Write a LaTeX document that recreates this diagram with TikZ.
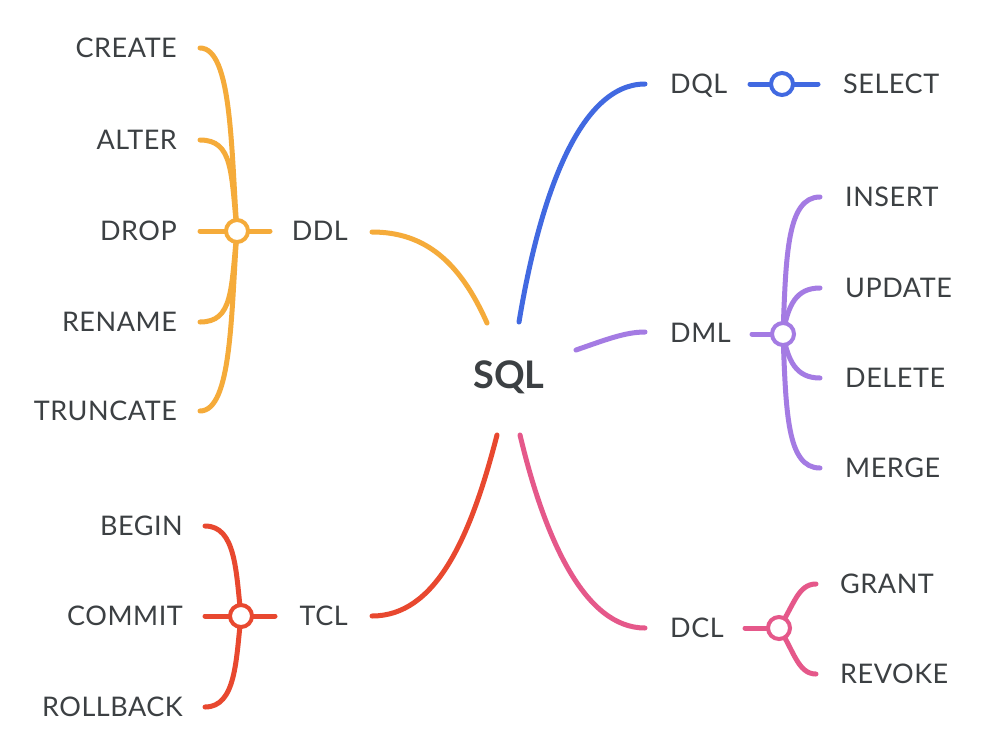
\documentclass[tikz,border=0pt]{standalone}
\usepackage{fontspec}
\setmainfont{Lato}
\newfontfamily\lblfont{Lato}[LetterSpace=2]
\definecolor{txt}{HTML}{3C4043}
\definecolor{cddl}{HTML}{F5AB3A}
\definecolor{cdql}{HTML}{4169E1}
\definecolor{cdml}{HTML}{A47BE3}
\definecolor{ctcl}{HTML}{E8482F}
\definecolor{cdcl}{HTML}{E5588A}
\tikzset{
  lbl/.style={text=txt, font=\lblfont\fontsize{27}{31}\selectfont, inner sep=0pt, text depth=0pt},
  rootlbl/.style={text=txt, font=\fontsize{38}{44}\selectfont\bfseries, inner sep=0pt},
  hub/.style={circle, fill=white, line width=4pt, minimum size=22pt, inner sep=0pt},
  br/.style={line width=5pt, line cap=round},
}
\begin{document}
\begin{tikzpicture}[x=1pt,y=-1pt]
\useasboundingbox[fill=white] (0,0) rectangle (1000,750);
% text nodes
\node[rootlbl] (sql) at (509,377) {SQL};
\node[lbl,anchor=east] (ddl) at (348,231) {DDL};
\node[lbl,anchor=west] (dql) at (670,84) {DQL};
\node[lbl,anchor=west] (dml) at (670,333) {DML};
\node[lbl,anchor=east] (tcl) at (348,616) {TCL};
\node[lbl,anchor=west] (dcl) at (670,628) {DCL};
\node[lbl,anchor=east] (create) at (177,48) {CREATE};
\node[lbl,anchor=east] (alter) at (177,140) {ALTER};
\node[lbl,anchor=east] (drop) at (177,231) {DROP};
\node[lbl,anchor=east] (rename) at (177,322) {RENAME};
\node[lbl,anchor=east] (truncate) at (177,411) {TRUNCATE};
\node[lbl,anchor=west] (select) at (843,84) {SELECT};
\node[lbl,anchor=west] (insert) at (845,197) {INSERT};
\node[lbl,anchor=west] (update) at (845,288) {UPDATE};
\node[lbl,anchor=west] (delete) at (845,378) {DELETE};
\node[lbl,anchor=west] (merge) at (845,468) {MERGE};
\node[lbl,anchor=east] (begin) at (183,526) {BEGIN};
\node[lbl,anchor=east] (commit) at (183,616) {COMMIT};
\node[lbl,anchor=east] (rollback) at (183,707) {ROLLBACK};
\node[lbl,anchor=west] (grant) at (840,584) {GRANT};
\node[lbl,anchor=west] (revoke) at (840,674) {REVOKE};
% connector end points
\coordinate (sDDL) at (487,323); \coordinate (eDDL) at (372,232);
\coordinate (sDQL) at (519,322); \coordinate (eDQL) at (645,84);
\coordinate (sDML) at (576,350); \coordinate (eDML) at (645,332);
\coordinate (sTCL) at (497,435); \coordinate (eTCL) at (372,616);
\coordinate (sDCL) at (520,435); \coordinate (eDCL) at (645,628);
\coordinate (hDDL) at (237,231); \coordinate (hDQL) at (782,84);
\coordinate (hDML) at (783,334); \coordinate (hTCL) at (241,616);
\coordinate (hDCL) at (779,628);
\coordinate (pCreate) at (200,48); \coordinate (pAlter) at (200,140);
\coordinate (pDrop) at (200,231); \coordinate (pRename) at (200,322);
\coordinate (pTrunc) at (200,411); \coordinate (pDDLr) at (270,231);
\coordinate (pSelL) at (750,84); \coordinate (pSel) at (818,84);
\coordinate (pDMLl) at (752,334);
\coordinate (pIns) at (820,197); \coordinate (pUpd) at (820,288);
\coordinate (pDel) at (820,378); \coordinate (pMrg) at (820,468);
\coordinate (pBeg) at (205,526); \coordinate (pCom) at (205,616);
\coordinate (pRol) at (205,707); \coordinate (pTCLr) at (275,616);
\coordinate (pDCLl) at (745,628);
\coordinate (pGr) at (816,584); \coordinate (pRev) at (816,674);
% main branches
\draw[br,cddl] (sDDL) .. controls (460,262) and (425,232) .. (eDDL);
\draw[br,cdql] (sDQL) .. controls (540,195) and (580,84) .. (eDQL);
\draw[br,cdml] (sDML) .. controls (605,340) and (625,332) .. (eDML);
\draw[br,ctcl] (sTCL) .. controls (470,540) and (435,616) .. (eTCL);
\draw[br,cdcl] (sDCL) .. controls (545,540) and (585,628) .. (eDCL);
% DDL sub-branches
\draw[br,cddl] (hDDL) .. controls (231,150) and (232,48) .. (pCreate);
\draw[br,cddl] (hDDL) .. controls (231,172) and (233,140) .. (pAlter);
\draw[br,cddl] (pDrop) -- (pDDLr);
\draw[br,cddl] (hDDL) .. controls (231,290) and (233,322) .. (pRename);
\draw[br,cddl] (hDDL) .. controls (231,312) and (232,411) .. (pTrunc);
% DQL
\draw[br,cdql] (pSelL) -- (pSel);
% DML sub-branches
\draw[br,cdml] (pDMLl) -- (hDML);
\draw[br,cdml] (hDML) .. controls (786,255) and (787,197) .. (pIns);
\draw[br,cdml] (hDML) .. controls (788,305) and (796,288) .. (pUpd);
\draw[br,cdml] (hDML) .. controls (788,361) and (796,378) .. (pDel);
\draw[br,cdml] (hDML) .. controls (786,413) and (787,468) .. (pMrg);
% TCL sub-branches
\draw[br,ctcl] (hTCL) .. controls (236,572) and (236,526) .. (pBeg);
\draw[br,ctcl] (pCom) -- (pTCLr);
\draw[br,ctcl] (hTCL) .. controls (236,660) and (236,707) .. (pRol);
% DCL sub-branches
\draw[br,cdcl] (pDCLl) -- (hDCL);
\draw[br,cdcl] (hDCL) .. controls (794,605) and (798,584) .. (pGr);
\draw[br,cdcl] (hDCL) .. controls (794,651) and (798,674) .. (pRev);
% hubs
\node[hub,draw=cddl] (hubddl) at (hDDL) {};
\node[hub,draw=cdql] (hubdql) at (hDQL) {};
\node[hub,draw=cdml] (hubdml) at (hDML) {};
\node[hub,draw=ctcl] (hubtcl) at (hTCL) {};
\node[hub,draw=cdcl] (hubdcl) at (hDCL) {};
\end{tikzpicture}
\end{document}
